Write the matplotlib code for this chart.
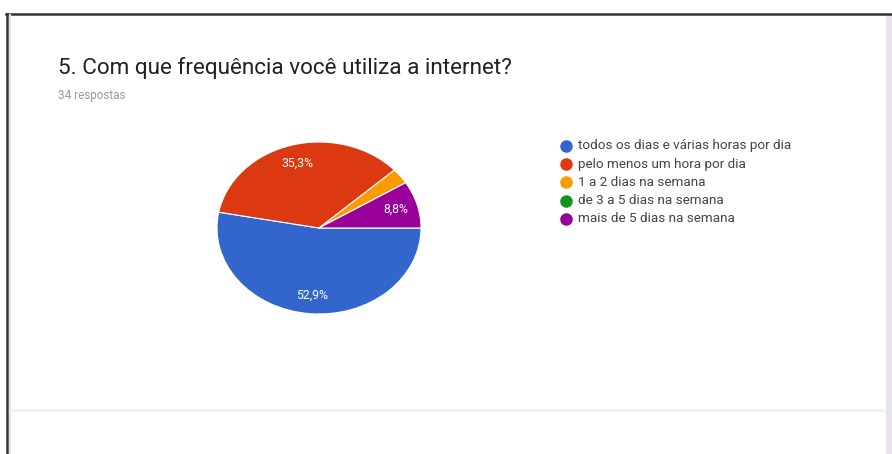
import matplotlib
matplotlib.use("Agg")
import matplotlib.pyplot as plt
from matplotlib.patches import Rectangle
from matplotlib.lines import Line2D

title = "5. Com que frequência você utiliza a internet?"
subtitle = "34 respostas"
categories = [
    "todos os dias e várias horas por dia",
    "pelo menos um hora por dia",
    "1 a 2 dias na semana",
    "de 3 a 5 dias na semana",
    "mais de 5 dias na semana",
]
counts = [18, 12, 1, 0, 3]
colors = ["#3366cc", "#dc3912", "#ff9900", "#109618", "#990099"]

W, H = 892, 454
fig = plt.figure(figsize=(W / 100, H / 100), dpi=100)
fig.patch.set_facecolor("white")
plt.rcParams["font.family"] = ["Roboto", "DejaVu Sans"]


def px(x, y, w, h):
    # pixel box (top-left origin) -> figure fraction
    return [x / W, 1 - (y + h) / H, w / W, h / H]


# window frame: dark top/left edges, lavender strip on the right
fig.add_artist(Line2D([6 / W, 1], [1 - 13.5 / H] * 2, transform=fig.transFigure,
                      color="#333333", lw=1.8))
fig.add_artist(Line2D([6.5 / W] * 2, [0, 1 - 13.5 / H], transform=fig.transFigure,
                      color="#333333", lw=1.8))
fig.add_artist(Line2D([9.5 / W] * 2, [0, 1 - 15 / H], transform=fig.transFigure,
                      color="#e4e0f0", lw=1.5))
fig.add_artist(Rectangle((886 / W, 0), 6 / W, 1 - 15 / H, transform=fig.transFigure,
                         facecolor="#e8e3ef", edgecolor="none"))
fig.add_artist(Line2D([10 / W, 885 / W], [1 - 410 / H] * 2, transform=fig.transFigure,
                      color="#f1f1f1", lw=2))

fig.text(58 / W, 1 - 68 / H, title, fontsize=16.2, color="#202124", va="center")
fig.text(58 / W, 1 - 96 / H, subtitle, fontsize=8.5, color="#9a9a9a", va="center")

ax = fig.add_axes(px(217, 142, 204, 172))


def fmt(p):
    return "" if p < 5 else f"{p:.1f}%".replace(".", ",")


wedges, _, autotexts = ax.pie(
    counts, colors=colors, startangle=0, counterclock=False,
    autopct=fmt, pctdistance=0.78,
    wedgeprops=dict(edgecolor="white", linewidth=0.8),
    textprops=dict(color="white", fontsize=8.8),
)
ax.set_aspect("auto")
ax.set_xlim(-1, 1)
ax.set_ylim(-1, 1)

# legend
for i, (lab, c) in enumerate(zip(categories, colors)):
    y = 1 - (146 + i * 18.2) / H
    fig.add_artist(Line2D([566 / W], [y], marker="o", markersize=8, color=c,
                          transform=fig.transFigure, linestyle="none"))
    fig.text(578 / W, y, lab, fontsize=9.7, color="#444444", va="center")

fig.savefig("out.png", dpi=100)
